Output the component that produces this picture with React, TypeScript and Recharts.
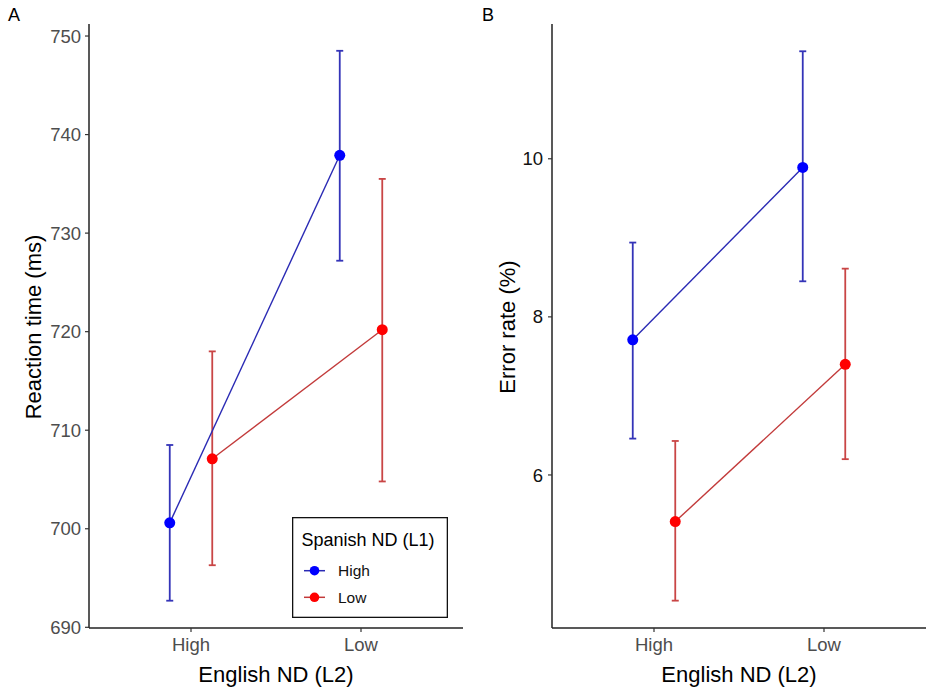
import React from "react";
import { ComposedChart, Scatter, ErrorBar, XAxis, YAxis, Legend } from "recharts";

// ---- data ----
const categories = ["High", "Low"]; // English ND (L2)
const groups = ["High", "Low"]; // Spanish ND (L1)

// Panel A: Reaction time (ms)
const rtHighMean = [700.6, 737.9];
const rtHighLower = [692.7, 727.2];
const rtHighUpper = [708.5, 748.5];
const rtLowMean = [707.1, 720.2];
const rtLowLower = [696.3, 704.8];
const rtLowUpper = [718.0, 735.5];
const rtTicks = [690, 700, 710, 720, 730, 740, 750];

// Panel B: Error rate (%)
const erHighMean = [7.71, 9.89];
const erHighLower = [6.46, 8.45];
const erHighUpper = [8.94, 11.36];
const erLowMean = [5.41, 7.4];
const erLowLower = [4.41, 6.2];
const erLowUpper = [6.43, 8.61];
const erTicks = [6, 8, 10];

// ---- styling ----
const FONT = "'Liberation Sans', Arial, Helvetica, sans-serif";
const DODGE = 0.125;
const pointColors = ["#0000ff", "#ff0000"];
const lineColors = ["#2a2ab4", "#c23a3a"];
const barColors = ["#3434b8", "#c94545"];

type Pt = { x: number; y: number; err: [number, number] };

function build(mean: number[], lo: number[], hi: number[], offset: number): Pt[] {
  return categories.map((_, i) => ({
    x: i + 1 + offset,
    y: mean[i],
    err: [mean[i] - lo[i], hi[i] - mean[i]] as [number, number],
  }));
}

const AxisTitleX = ({ px, py, text }: { px: number; py: number; text: string }) => (
  <text x={px} y={py} textAnchor="middle" fontSize={22} fill="#000" fontFamily={FONT}>
    {text}
  </text>
);

const AxisTitleY = ({ px, py, text }: { px: number; py: number; text: string }) => (
  <text
    x={px}
    y={py}
    textAnchor="middle"
    fontSize={22}
    fill="#000"
    fontFamily={FONT}
    transform={`rotate(-90, ${px}, ${py})`}
  >
    {text}
  </text>
);

const LegendBox = () => (
  <svg width={156} height={101} style={{ display: "block" }}>
    <rect x={0.65} y={0.65} width={154.7} height={99.7} fill="#fff" stroke="#111" strokeWidth={1.3} />
    <text x={9.5} y={29} fontSize={18} fill="#000" fontFamily={FONT}>
      Spanish ND (L1)
    </text>
    {groups.map((g, i) => {
      const cy = 53.7 + i * 26.6;
      return (
        <g key={g}>
          <line x1={12} x2={33} y1={cy} y2={cy} stroke={lineColors[i]} strokeWidth={1.5} />
          <circle cx={22.5} cy={cy} r={4.8} fill={pointColors[i]} />
          <text x={46} y={cy + 5.5} fontSize={15.5} fill="#111" fontFamily={FONT}>
            {g}
          </text>
        </g>
      );
    })}
  </svg>
);

type PanelProps = {
  width: number;
  marginLeft: number;
  marginRight: number;
  series: Pt[][];
  domain: [number, number];
  ticks: number[];
  yTickColor: string;
  yTickMargin: number;
  yTitle: string;
  yTitleX: number;
  xTitleX: number;
  showLegend: boolean;
};

const Panel = (p: PanelProps) => (
  <ComposedChart
    width={p.width}
    height={694}
    margin={{ top: 24, right: p.marginRight, bottom: 36, left: p.marginLeft }}
  >
    <XAxis
      type="number"
      dataKey="x"
      domain={[0.4, 2.6]}
      ticks={[1, 2]}
      allowDataOverflow
      tickFormatter={(v: number) => categories[Math.round(v) - 1] ?? ""}
      height={30}
      tickSize={4}
      tickMargin={6}
      tick={{ fill: "#4d4d4d", fontSize: 18.5, fontFamily: FONT }}
      tickLine={{ stroke: "#333", strokeWidth: 1.2 }}
      axisLine={{ stroke: "#222", strokeWidth: 1.5 }}
      label={<AxisTitleX px={p.xTitleX} py={682} text="English ND (L2)" />}
    />
    <YAxis
      type="number"
      dataKey="y"
      domain={p.domain}
      ticks={p.ticks}
      allowDataOverflow
      width={60}
      tickSize={4}
      tickMargin={p.yTickMargin}
      tick={{ fill: p.yTickColor, fontSize: 18.5, fontFamily: FONT }}
      tickLine={{ stroke: "#333", strokeWidth: 1.2 }}
      axisLine={{ stroke: "#222", strokeWidth: 1.5 }}
      label={<AxisTitleY px={p.yTitleX} py={327} text={p.yTitle} />}
    />
    {p.series.map((data, i) => (
      <Scatter
        key={groups[i]}
        name={groups[i]}
        data={data}
        fill={pointColors[i]}
        line={{ stroke: lineColors[i], strokeWidth: 1.4 }}
        lineType="joint"
        isAnimationActive={false}
        shape={(sp: any) => <circle cx={sp.cx} cy={sp.cy} r={5.5} fill={pointColors[i]} />}
      >
        <ErrorBar dataKey="err" direction="y" width={3.5} stroke={barColors[i]} strokeWidth={1.8} />
      </Scatter>
    ))}
    {p.showLegend && (
      <Legend
        layout="vertical"
        align="center"
        verticalAlign="middle"
        wrapperStyle={{ left: 292, top: 517, width: 156, height: 101 }}
        content={() => <LegendBox />}
      />
    )}
  </ComposedChart>
);

export default function App() {
  const seriesA = [
    build(rtHighMean, rtHighLower, rtHighUpper, -DODGE),
    build(rtLowMean, rtLowLower, rtLowUpper, DODGE),
  ];
  const seriesB = [
    build(erHighMean, erHighLower, erHighUpper, -DODGE),
    build(erLowMean, erLowLower, erLowUpper, DODGE),
  ];
  return (
    <div
      style={{
        position: "absolute",
        left: 0,
        top: 0,
        width: 935,
        height: 694,
        background: "#fff",
        fontFamily: FONT,
        overflow: "hidden",
      }}
    >
      <div style={{ position: "absolute", left: 0, top: 0 }}>
        <Panel
          width={467}
          marginLeft={29}
          marginRight={4}
          series={seriesA}
          domain={[689.93, 751.22]}
          ticks={rtTicks}
          yTickColor="#4d4d4d"
          yTickMargin={4}
          yTitle="Reaction time (ms)"
          yTitleX={41}
          xTitleX={276}
          showLegend
        />
      </div>
      <div style={{ position: "absolute", left: 467, top: 0 }}>
        <Panel
          width={468}
          marginLeft={25}
          marginRight={9}
          series={seriesB}
          domain={[4.064, 11.705]}
          ticks={erTicks}
          yTickColor="#111"
          yTickMargin={5}
          yTitle="Error rate (%)"
          yTitleX={48}
          xTitleX={272}
          showLegend={false}
        />
      </div>
      <svg
        width={935}
        height={694}
        style={{ position: "absolute", left: 0, top: 0, pointerEvents: "none" }}
      >
        <text x={8} y={21} fontSize={18} fill="#000" fontFamily={FONT}>
          A
        </text>
        <text x={482} y={21} fontSize={18} fill="#000" fontFamily={FONT}>
          B
        </text>
      </svg>
    </div>
  );
}
